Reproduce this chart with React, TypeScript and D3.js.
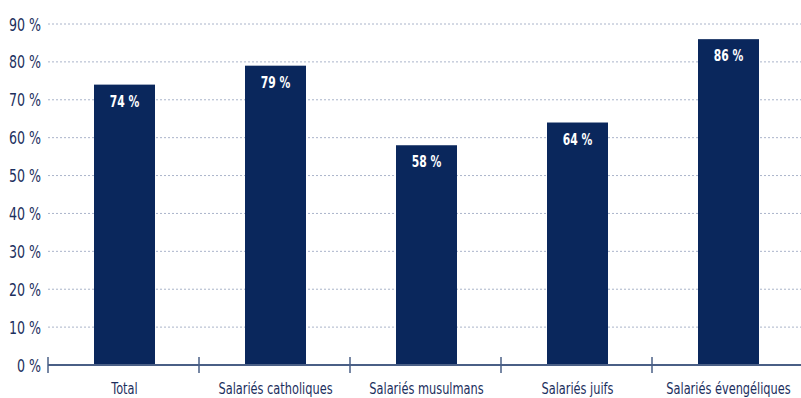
import React from "react";
import * as d3 from "d3";

const categories = ["Total", "Salariés catholiques", "Salariés musulmans", "Salariés juifs", "Salariés évengéliques"];
const values = [74, 79, 58, 64, 86];
const yTicks = [0, 10, 20, 30, 40, 50, 60, 70, 80, 90];

const W = 801;
const H = 398;
const FONT = "'DejaVu Sans Condensed', 'DejaVu Sans', sans-serif";

function T(props: { x: number; y: number; sx: number; anchor: string; size: number; fill: string; bold?: boolean; children: React.ReactNode }) {
  return (
    <text
      transform={`translate(${props.x},${props.y}) scale(${props.sx},1)`}
      textAnchor={props.anchor}
      fontFamily={FONT}
      fontSize={props.size}
      fontWeight={props.bold ? "bold" : "normal"}
      fill={props.fill}
    >
      {props.children}
    </text>
  );
}

export default function App() {
  const bx = d3.scaleBand<string>().domain(categories).range([48, 803]).paddingInner(0).paddingOuter(0);
  const y = d3.scaleLinear().domain([0, 90]).range([365, 24]);
  const boundaries = categories.map((c) => bx(c) as number).concat([803]);
  const bw = 61;
  return (
    <svg width={W} height={H} style={{ position: "absolute", left: 0, top: 0 }}>
      {yTicks.map((t) => (
        <g key={t}>
          {t > 0 && (
            <line x1={48} x2={801} y1={y(t)} y2={y(t)} stroke="#aab4ca" strokeWidth={1} strokeDasharray="2,2" />
          )}
          <T x={41} y={y(t) + 6.5} sx={0.78} anchor="end" size={18} fill="#1c2f5e">
            {t} %
          </T>
        </g>
      ))}
      {categories.map((c, i) => {
        const cx = (bx(c) as number) + bx.bandwidth() / 2 + 1;
        return (
          <g key={c}>
            <rect x={cx - bw / 2} y={y(values[i])} width={bw} height={365 - y(values[i])} fill="#0a275c" />
            <T x={cx} y={y(values[i]) + 22} sx={0.8} anchor="middle" size={15} bold fill="#ffffff">
              {values[i]} %
            </T>
            <T x={cx} y={394} sx={0.79} anchor="middle" size={16} fill="#1c2f5e">
              {c}
            </T>
          </g>
        );
      })}
      <line x1={48} x2={801} y1={365} y2={365} stroke="#4a5f86" strokeWidth={2} />
      {boundaries.map((b, i) => (
        <line key={i} x1={b} x2={b} y1={357} y2={373} stroke="#4a5f86" strokeWidth={1.5} />
      ))}
    </svg>
  );
}
